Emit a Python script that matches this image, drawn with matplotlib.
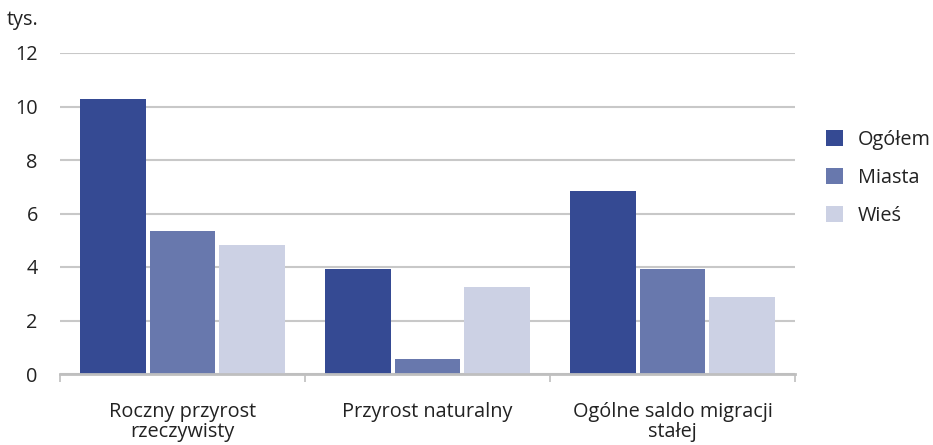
import matplotlib
matplotlib.use("Agg")
import matplotlib.pyplot as plt
import numpy as np

categories = ["Roczny przyrost\nrzeczywisty", "Przyrost naturalny", "Ogólne saldo migracji\nstałej"]
series_names = ["Ogółem", "Miasta", "Wieś"]
ogolem = [10.28, 3.93, 6.84]
miasta = [5.35, 0.56, 3.93]
wies = [4.82, 3.25, 2.88]
yticks = [0, 2, 4, 6, 8, 10, 12]
colors = ["#354a93", "#6878ad", "#ccd1e4"]

plt.rcParams['font.family'] = ['Open Sans', 'DejaVu Sans']
FS = 14.3

fig = plt.figure(figsize=(9.33, 4.45), dpi=100)
ax = fig.add_axes([60/933, 71/445, 735/933, 321/445])

x = np.arange(len(categories))
bw = 0.268
gap = 0.016
values = [ogolem, miasta, wies]
for i, (name, vals, c) in enumerate(zip(series_names, values, colors)):
    ax.bar(x + (i - 1) * (bw + gap), vals, width=bw, color=c, label=name, zorder=3)

ax.set_xlim(-0.5, 2.5)
ax.set_ylim(0, 12)
ax.set_yticks(yticks)
ax.set_yticklabels([str(t) for t in yticks], fontsize=FS, color="#222222")
ax.tick_params(axis='y', length=0, pad=16)
ax.yaxis.grid(True, color="#c8c8c8", linewidth=1.5, zorder=0)
ax.set_axisbelow(True)

ax.set_xticks(x)
ax.set_xticklabels(categories, fontsize=FS, color="#222222", linespacing=1.0)
ax.tick_params(axis='x', length=0, pad=20)
ax.set_xticks([-0.5, 0.5, 1.5, 2.5], minor=True)
ax.tick_params(axis='x', which='minor', length=6, color="#bfbfbf", width=1.2)

for s in ["top", "right", "left"]:
    ax.spines[s].set_visible(False)
ax.spines["bottom"].set_color("#bfbfbf")
ax.spines["bottom"].set_linewidth(2)
ax.spines["bottom"].set_zorder(4)

fig.text(7/933, 1 - 20/445, "tys.", fontsize=FS, color="#222222", va="center", ha="left")

leg = ax.legend(loc="center left", bbox_to_anchor=(1.042, (374 - 178) / 321), frameon=False,
                fontsize=FS, handlelength=0.85, handleheight=0.85, labelspacing=0.9,
                handletextpad=0.75, borderaxespad=0, borderpad=0)
for t in leg.get_texts():
    t.set_color("#222222")

fig.savefig("out.png", dpi=100)
